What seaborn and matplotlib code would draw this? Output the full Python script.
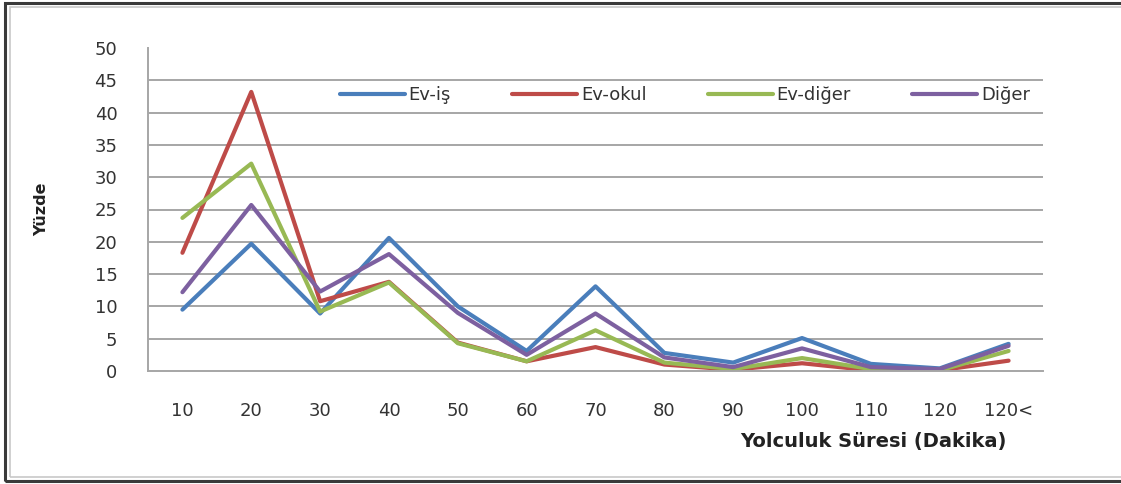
import matplotlib
matplotlib.use("Agg")
import matplotlib.pyplot as plt
import matplotlib.patches as mpatches
import seaborn as sns
import pandas as pd

# Travel time bins (minutes) and share of trips (%) per trip purpose
categories = ["10", "20", "30", "40", "50", "60", "70", "80", "90", "100", "110", "120", "120<"]
ev_is = [9.5, 19.7, 8.9, 20.6, 10.0, 3.1, 13.1, 2.8, 1.3, 5.1, 1.1, 0.4, 4.2]
ev_okul = [18.3, 43.2, 10.8, 13.8, 4.4, 1.5, 3.7, 1.0, 0.2, 1.2, 0.1, 0.1, 1.6]
ev_diger = [23.7, 32.1, 9.2, 13.7, 4.3, 1.5, 6.3, 1.3, 0.3, 2.0, 0.3, 0.1, 3.1]
diger = [12.2, 25.7, 12.3, 18.1, 9.0, 2.5, 8.9, 2.1, 0.6, 3.5, 0.6, 0.3, 3.9]

series_names = ["Ev-iş", "Ev-okul", "Ev-diğer", "Diğer"]
series_values = [ev_is, ev_okul, ev_diger, diger]
colors = ["#4A7EBB", "#BE4B48", "#98B954", "#7D60A0"]

frames = []
for name, vals in zip(series_names, series_values):
    frames.append(pd.DataFrame({"Süre": categories, "Yüzde": vals, "Seri": name}))
df = pd.concat(frames, ignore_index=True)

sns.set_theme(style="white")
plt.rcParams["font.family"] = ["DejaVu Sans"]

fig = plt.figure(figsize=(11.21, 4.84), dpi=100)
ax = fig.add_axes([148 / 1121, 1 - 371 / 484, (1043 - 148) / 1121, (371 - 48) / 484])

sns.lineplot(data=df, x="Süre", y="Yüzde", hue="Seri", hue_order=series_names,
             palette=colors, sort=False, linewidth=3.0, ax=ax, legend=True)

ax.set_xlim(-0.5, len(categories) - 0.5)
ax.set_ylim(0, 50)
ax.set_yticks(range(0, 51, 5))

# horizontal gridlines (none at the very top)
for v in range(5, 50, 5):
    ax.axhline(v, color="#A6A6A6", linewidth=1.4, zorder=0)

for side in ["top", "right"]:
    ax.spines[side].set_visible(False)
for side in ["left", "bottom"]:
    ax.spines[side].set_color("#A6A6A6")
    ax.spines[side].set_linewidth(1.4)

ax.tick_params(axis="x", length=0, pad=22, labelsize=13, labelcolor="#333333")
ax.tick_params(axis="y", length=0, pad=22, labelsize=13, labelcolor="#333333")

ax.set_xlabel("")
ax.set_ylabel("Yüzde", fontsize=11.5, fontweight="bold", color="#222222")
ax.yaxis.set_label_coords(-0.11, 0.5)
fig.text(873 / 1121, 1 - 441 / 484, "Yolculuk Süresi (Dakika)", ha="center", va="center",
         fontsize=14, fontweight="bold", color="#222222")

leg = ax.legend(loc="center", bbox_to_anchor=(0.60, 0.854), ncol=4, frameon=False,
                fontsize=13, handlelength=3.6, handletextpad=0.2, columnspacing=3.4)
for t in leg.get_texts():
    t.set_color("#333333")
for h in leg.get_lines():
    h.set_linewidth(3.0)

# outer chart frame
fig.patches.append(mpatches.Rectangle((5 / 1121, 3 / 484), 1.2, 478 / 484,
                                      transform=fig.transFigure, fill=False,
                                      edgecolor="#3A3A3A", linewidth=2.2))
fig.patches.append(mpatches.Rectangle((10 / 1121, 7 / 484), 1.2, 470 / 484,
                                      transform=fig.transFigure, fill=False,
                                      edgecolor="#C8C8C8", linewidth=1.2))

fig.savefig("out.png", dpi=100)
